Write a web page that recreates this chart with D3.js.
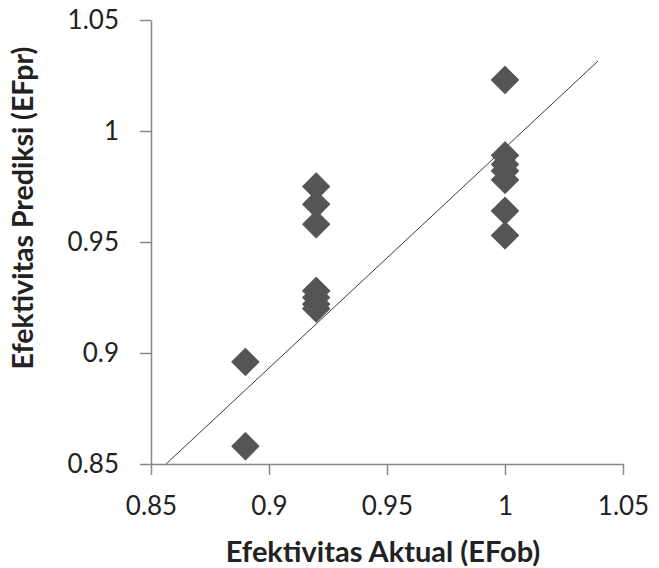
<!DOCTYPE html>
<html>
<head>
<meta charset="utf-8">
<script src="https://cdn.jsdelivr.net/npm/d3@7"></script>
<style>
  body { margin: 0; background: #fff; }
  text { font-family: Lato, 'Open Sans', sans-serif; fill: #222; }
</style>
</head>
<body>
<div id="chart"></div>
<script>
// data
var actual = [0.89, 0.89,
  0.92, 0.92, 0.92, 0.92, 0.92, 0.92, 0.92,
  1, 1, 1, 1, 1, 1, 1]
var predicted = [0.896, 0.858,
  0.975, 0.967, 0.958, 0.928, 0.925, 0.922, 0.920,
  1.023, 0.989, 0.985, 0.982, 0.978, 0.964, 0.953]

// trend line end points
var lineX = [0.8564, 1.0394]
var lineY = [0.85, 1.0315]

var ticks = [0.85, 0.9, 0.95, 1, 1.05]

var width = 659
var height = 568

var margin = { top: 20, left: 151, right: 36, bottom: 104 }

var svg = d3
  .select('#chart')
  .append('svg')
  .attr('width', width)
  .attr('height', height)

var g = svg
  .append('g')
  .attr('transform', 'translate(' + margin.left + ',' + margin.top + ')')

var w = width - margin.left - margin.right
var h = height - margin.top - margin.bottom

var xPositionScale = d3.scaleLinear().domain([0.85, 1.05]).range([0, w])
var yPositionScale = d3.scaleLinear().domain([0.85, 1.05]).range([h, 0])

var fmt = d => (d === 1 ? '1' : String(d))

// axes
var xAxis = d3.axisBottom(xPositionScale).tickValues(ticks).tickFormat(fmt).tickSize(11).tickSizeOuter(0)
var yAxis = d3.axisLeft(yPositionScale).tickValues(ticks).tickFormat(fmt).tickSize(11).tickSizeOuter(0)

var gx = g
  .append('g')
  .attr('class', 'axis x-axis')
  .attr('transform', 'translate(0,' + h + ')')
  .call(xAxis)

var gy = g
  .append('g')
  .attr('class', 'axis y-axis')
  .call(yAxis)

g.selectAll('.axis .domain').attr('stroke', '#888').attr('stroke-width', 1.5)
g.selectAll('.axis .tick line').attr('stroke', '#888').attr('stroke-width', 1.5)
g.selectAll('.axis text').attr('font-size', 26).attr('fill', '#222')
gx.selectAll('text').attr('dy', '0.71em').attr('y', 33)
gy.selectAll('text').attr('x', -32).attr('dy', '0.34em')

// trend line
g.append('line')
  .attr('x1', xPositionScale(lineX[0]))
  .attr('y1', yPositionScale(lineY[0]))
  .attr('x2', xPositionScale(lineX[1]))
  .attr('y2', yPositionScale(lineY[1]))
  .attr('stroke', '#3a3a3a')
  .attr('stroke-width', 1)

// diamonds
var diamond = d3.symbol().type(d3.symbolSquare).size(370)

g.selectAll('.pt')
  .data(actual)
  .enter()
  .append('path')
  .attr('class', 'pt')
  .attr('d', diamond)
  .attr('transform', (d, i) =>
    'translate(' + xPositionScale(d) + ',' + yPositionScale(predicted[i]) + ') rotate(45)')
  .attr('fill', '#555')
  .attr('stroke', '#555')
  .attr('stroke-width', 1)
  .attr('stroke-linejoin', 'round')

// titles
svg.append('text')
  .text('Efektivitas Aktual (EFob)')
  .attr('x', 383)
  .attr('y', 552)
  .attr('dy', '0.35em')
  .attr('text-anchor', 'middle')
  .attr('font-size', 29)
  .attr('font-weight', 'bold')

svg.append('text')
  .text('Efektivitas Prediksi (EFpr)')
  .attr('transform', 'translate(23,208) rotate(-90)')
  .attr('dy', '0.35em')
  .attr('text-anchor', 'middle')
  .attr('font-size', 28.5)
  .attr('font-weight', 'bold')
</script>
</body>
</html>
